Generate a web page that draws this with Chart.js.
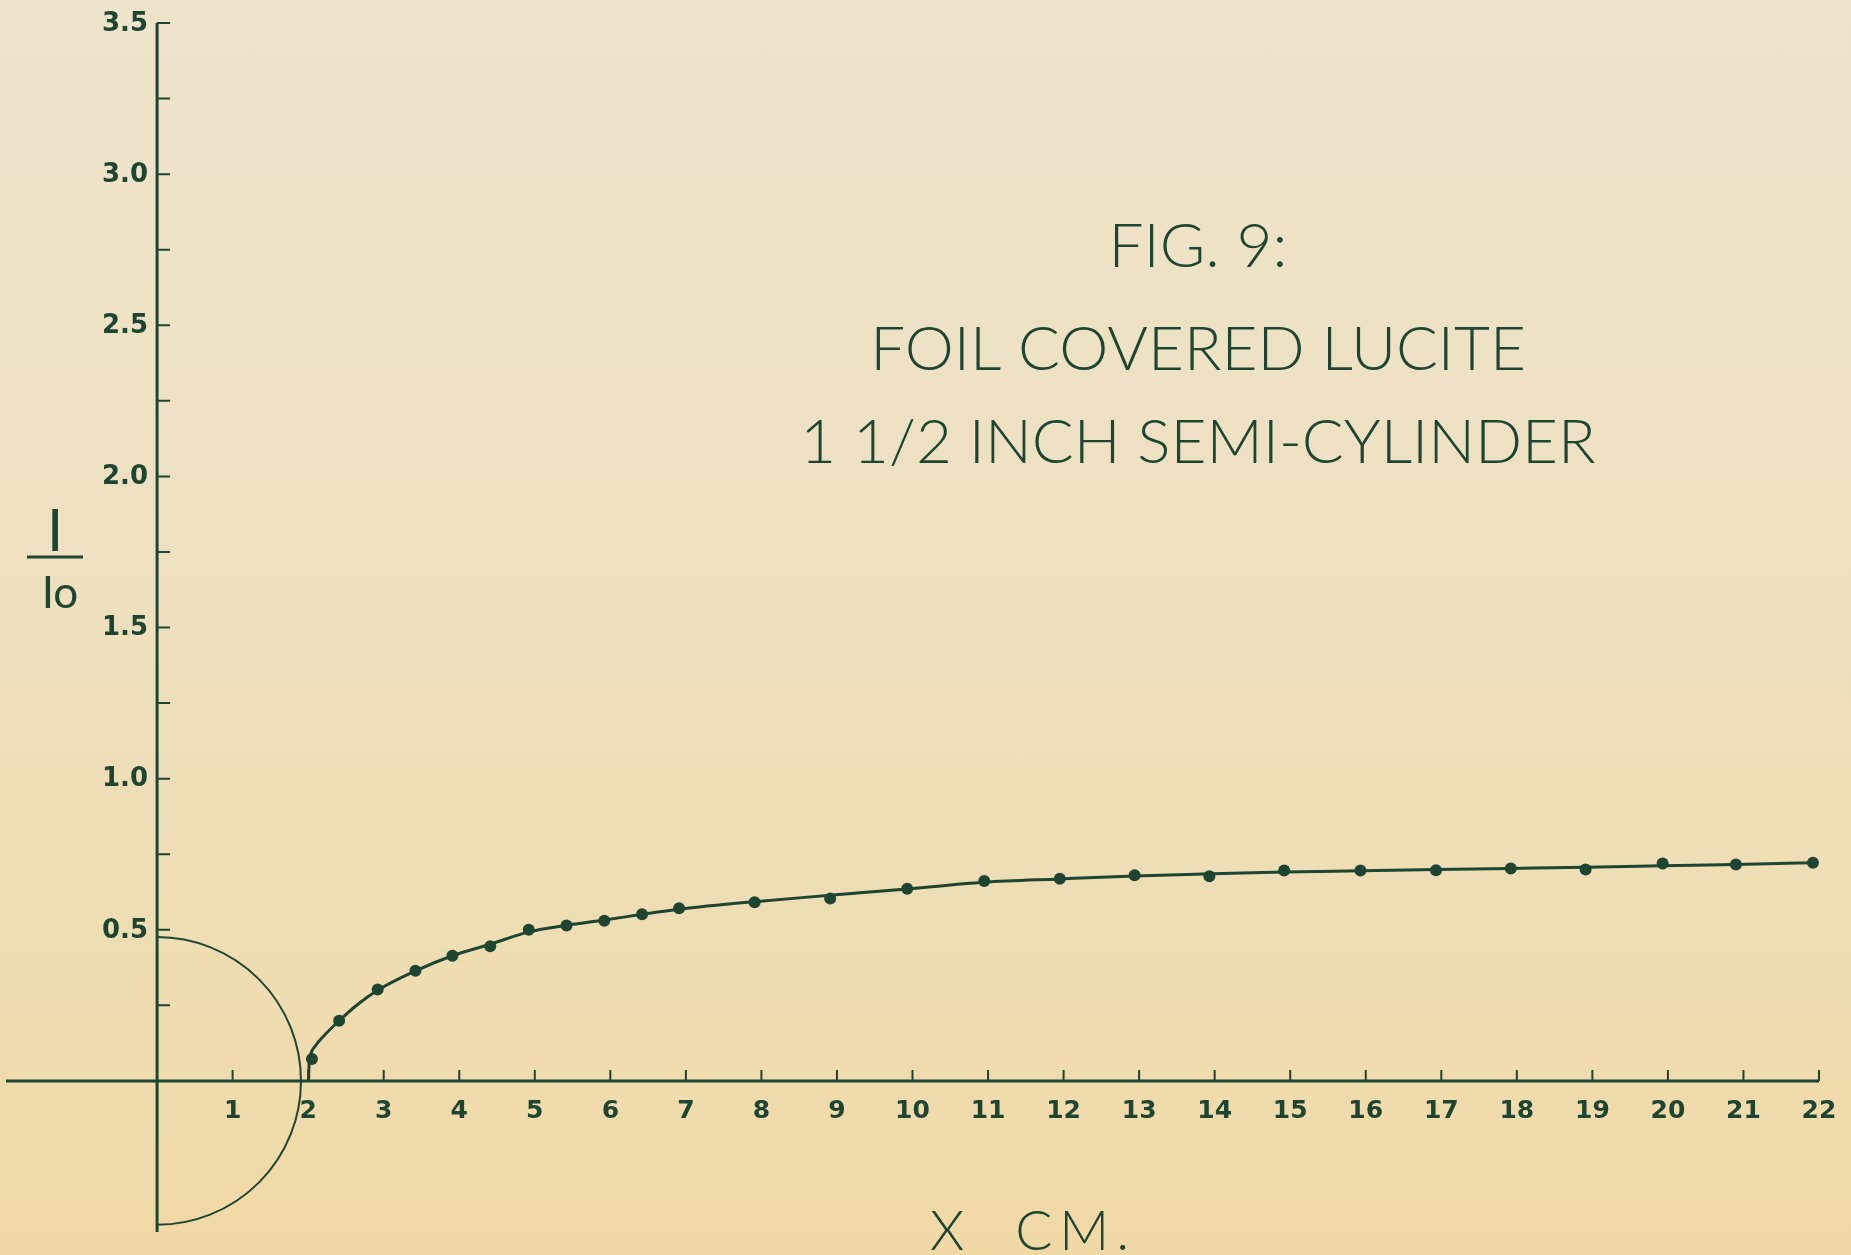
<!DOCTYPE html>
<html><head><meta charset="utf-8">
<title>FIG. 9: FOIL COVERED LUCITE 1 1/2 INCH SEMI-CYLINDER</title>
<script src="https://cdn.jsdelivr.net/npm/chart.js@4.4.7/dist/chart.umd.min.js"></script>
<style>
html,body{margin:0;padding:0;width:1851px;height:1255px;overflow:hidden}
body{background:linear-gradient(to bottom,#eee4cb 0%,#eee1c2 40%,#efddb3 75%,#f1d9a6 100%)}
canvas{display:block}
</style></head><body>
<canvas id="chart" width="1851" height="1255"></canvas>
<script>
'use strict';

// measured points, I/Io against distance x (cm)
var PT_X = [2.05, 2.41, 2.92, 3.42, 3.91, 4.41, 4.92, 5.42, 5.92, 6.42, 6.91, 7.91, 8.91,
            9.93, 10.95, 11.95, 12.94, 13.93, 14.92, 15.93, 16.93, 17.92, 18.91, 19.93, 20.90, 21.92];
var PT_Y = [0.072, 0.199, 0.302, 0.364, 0.414, 0.445, 0.500, 0.514, 0.530, 0.551, 0.571, 0.591, 0.603,
            0.636, 0.661, 0.669, 0.680, 0.677, 0.696, 0.696, 0.697, 0.703, 0.699, 0.719, 0.716, 0.722];

// the hand drawn smooth curve
var CURVE_X = [2.005, 2.012, 2.03, 2.1, 2.2, 2.41, 2.65, 2.92, 3.42, 3.91, 4.41, 4.92, 5.42, 5.92, 6.42,
               6.91, 7.91, 8.91, 9.93, 10.95, 11.95, 12.94, 13.93, 14.92, 15.93, 16.93, 17.92, 18.91,
               19.93, 20.90, 21.92];
var CURVE_Y = [0, 0.055, 0.085, 0.117, 0.147, 0.199, 0.252, 0.300, 0.364, 0.414, 0.452, 0.493, 0.515, 0.532, 0.551,
               0.568, 0.593, 0.614, 0.635, 0.657, 0.668, 0.678, 0.685, 0.691, 0.695, 0.699, 0.703, 0.707,
               0.712, 0.716, 0.722];

// axes
var X_TICKS = [1,2,3,4,5,6,7,8,9,10,11,12,13,14,15,16,17,18,19,20,21,22];
var Y_LABELS = [0.5, 1.0, 1.5, 2.0, 2.5, 3.0, 3.5];
var Y_MINOR = [0.25,0.5,0.75,1.0,1.25,1.5,1.75,2.0,2.25,2.5,2.75,3.0,3.25,3.5];
var X_MIN = -2, X_MAX = 22, Y_MIN = -0.5, Y_MAX = 3.5;

// semi-cylinder outline: 1 1/2 inch diameter, radius in cm
var CYL_RADIUS = 1.905;

var TITLE = ['FIG. 9:', 'FOIL COVERED LUCITE', '1 1/2 INCH SEMI-CYLINDER'];
var X_TITLE = 'X  CM.';
var Y_TITLE_TOP = 'I', Y_TITLE_BOTTOM = 'Io';

var INK = '#1d4532';
var LIGHT = '{w} {s}px Lato, "Open Sans", sans-serif';

function light(size, w) { return LIGHT.replace('{s}', size).replace('{w}', w || 300); }

var paperPlugin = {
  id: 'paper',
  beforeDatasetsDraw: function(chart) {
    var ctx = chart.ctx;
    var xs = chart.scales.x, ys = chart.scales.y;
    var x0 = xs.getPixelForValue(0), y0 = ys.getPixelForValue(0);
    ctx.save();
    ctx.strokeStyle = INK;
    ctx.fillStyle = INK;
    ctx.lineCap = 'butt';

    // axis lines
    ctx.lineWidth = 3;
    ctx.beginPath();
    ctx.moveTo(xs.getPixelForValue(X_MIN), y0);
    ctx.lineTo(xs.getPixelForValue(X_MAX), y0);
    ctx.moveTo(x0, ys.getPixelForValue(Y_MAX));
    ctx.lineTo(x0, ys.getPixelForValue(Y_MIN));
    ctx.stroke();

    // tick marks point into the plot
    ctx.lineWidth = 2;
    ctx.beginPath();
    Y_MINOR.forEach(function(v) {
      var y = ys.getPixelForValue(v);
      ctx.moveTo(x0, y); ctx.lineTo(x0 + 13, y);
    });
    X_TICKS.forEach(function(v) {
      var x = xs.getPixelForValue(v);
      ctx.moveTo(x, y0); ctx.lineTo(x, y0 - 11);
    });
    ctx.stroke();

    // semi-cylinder
    var r = xs.getPixelForValue(CYL_RADIUS) - x0;
    ctx.lineWidth = 2;
    ctx.beginPath();
    ctx.arc(x0, y0, r, -Math.PI / 2, Math.PI / 2, false);
    ctx.stroke();

    // tick labels
    ctx.font = 'bold 26px "DejaVu Sans", sans-serif';
    ctx.textAlign = 'right';
    ctx.textBaseline = 'middle';
    Y_LABELS.forEach(function(v) {
      ctx.fillText(v.toFixed(1), x0 - 9, ys.getPixelForValue(v) + 1);
    });
    ctx.font = 'bold 25px "DejaVu Sans", sans-serif';
    ctx.textAlign = 'center';
    X_TICKS.forEach(function(v) {
      ctx.fillText(String(v), xs.getPixelForValue(v), y0 + 31);
    });

    // titles
    ctx.textBaseline = 'alphabetic';
    ctx.font = light(62);
    ctx.fillText(TITLE[0], 1198, 267);
    ctx.fillText(TITLE[1], 1198, 370);
    ctx.fillText(TITLE[2], 1198, 463);

    ctx.textAlign = 'left';
    ctx.font = light(55);
    ctx.letterSpacing = '7px';
    ctx.fillText(X_TITLE, 930, 1250);
    ctx.letterSpacing = '0px';

    // I / Io
    ctx.textAlign = 'center';
    ctx.font = light(58, 400);
    ctx.fillText(Y_TITLE_TOP, 55, 551);
    ctx.lineWidth = 3;
    ctx.beginPath();
    ctx.moveTo(27, 557); ctx.lineTo(83, 557);
    ctx.stroke();
    ctx.font = light(44, 400);
    ctx.fillText(Y_TITLE_BOTTOM, 60, 608);
    ctx.restore();
  }
};

var curveData = CURVE_X.map(function(x, i) { return {x: x, y: CURVE_Y[i]}; });
var pointData = PT_X.map(function(x, i) { return {x: x, y: PT_Y[i]}; });

new Chart(document.getElementById('chart').getContext('2d'), {
  type: 'line',
  data: {
    datasets: [
      {label: 'curve', data: curveData, borderColor: INK, borderWidth: 3, pointRadius: 0,
       cubicInterpolationMode: 'monotone', fill: false},
      {label: 'I/Io', data: pointData, showLine: false, pointRadius: 6, pointBorderWidth: 0,
       pointBackgroundColor: INK}
    ]
  },
  options: {
    responsive: false,
    animation: false,
    events: [],
    layout: {padding: {left: 6, right: 32, top: 23, bottom: 23}},
    plugins: {legend: {display: false}, tooltip: {enabled: false}},
    scales: {
      x: {type: 'linear', min: X_MIN, max: X_MAX, display: false},
      y: {type: 'linear', min: Y_MIN, max: Y_MAX, display: false}
    }
  },
  plugins: [paperPlugin]
});
</script>
</body></html>
